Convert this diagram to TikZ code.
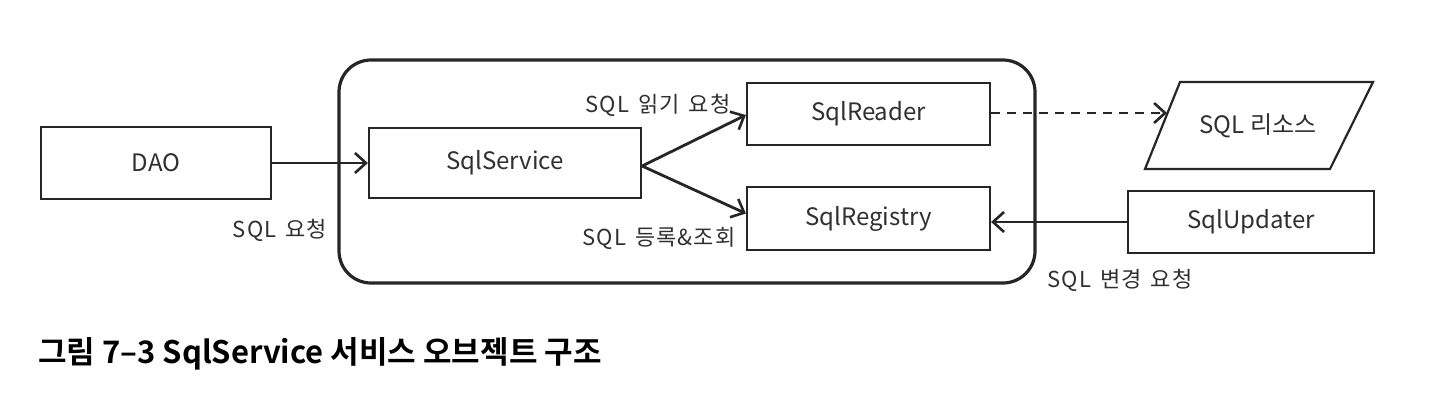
\documentclass[tikz,border=0pt]{standalone}
\usepackage{fontspec}
\setmainfont{Noto Sans CJK KR}
\newfontfamily\capfont{Noto Sans CJK KR Bold}
\newfontfamily\lblfont[LetterSpace=5]{Noto Sans CJK KR}
\usetikzlibrary{arrows.meta,positioning}
\definecolor{ink}{HTML}{262626}
\definecolor{txt}{HTML}{303030}
\newcommand{\gapsp}{\hspace{9pt}}
\tikzset{
  boxnode/.style={draw=ink, line width=2.2pt, minimum width=#1, inner sep=0pt, font=\fontsize{24}{28}\selectfont, text=txt},
  boxnode/.default=230pt,
  lbl/.style={inner sep=0pt, font=\lblfont\fontsize{22}{26}\selectfont, text=txt},
  conn/.style={draw=ink, line width=2.8pt, -{Straight Barb[length=11pt,width=20pt,line width=2.6pt]}},
}
\begin{document}
\begin{tikzpicture}[x=1pt,y=-1pt]
\path[fill=white] (0,0) rectangle (1440,413);
\useasboundingbox (0,0) rectangle (1440,413);
% container
\draw[ink, line width=3.2pt, rounded corners=32pt] (339,60) rectangle (1035,283);
% boxes
\node[boxnode=230pt, minimum height=72pt] (dao) at (156,163) {DAO};
\node[boxnode=272pt, minimum height=70pt] (svc) at (505,163) {SqlService};
\node[boxnode=243pt, minimum height=62pt] (reader) at (868.5,114) {SqlReader};
\node[boxnode=243pt, minimum height=63pt] (reg) at (868.5,218.5) {SqlRegistry};
\node[boxnode=246pt, minimum height=62pt] (upd) at (1251,222) {SqlUpdater};
% parallelogram resource
\draw[ink, line width=2.2pt] (1180,82) -- (1373,82) -- (1330,169) -- (1145,169) -- cycle;
\node[inner sep=0pt, font=\fontsize{24}{28}\selectfont, text=txt] (res) at (1258,126) {SQL 리소스};
\coordinate (restip) at (1167,113);
% connectors
\draw[conn] (dao.east) -- (svc.west);
\draw[conn] ([yshift=-3pt]svc.east) -- ([yshift=-1pt]reader.west);
\draw[conn] ([yshift=-3pt]svc.east) -- ([yshift=5pt]reg.west);
\draw[conn, dashed, dash pattern=on 9pt off 7pt] ([yshift=1pt]reader.east) -- (restip);
\draw[conn] (upd.west) -- (upd.west -| reg.east);
% labels
\node[lbl] (lreq) at (280,230) {SQL\gapsp 요청};
\node[lbl] (lread) at (658,105) {SQL\gapsp 읽기\gapsp 요청};
\node[lbl] (lreg) at (659,238) {SQL\gapsp 등록\&조회};
\node[lbl] (lchg) at (1120,280) {SQL\gapsp 변경\gapsp 요청};
% caption
\node[anchor=west, inner sep=0pt, font=\capfont\fontsize{31}{36}\selectfont, text=black] (cap) at (38,354) {그림 7–3 SqlService 서비스 오브젝트 구조};
\end{tikzpicture}
\end{document}
